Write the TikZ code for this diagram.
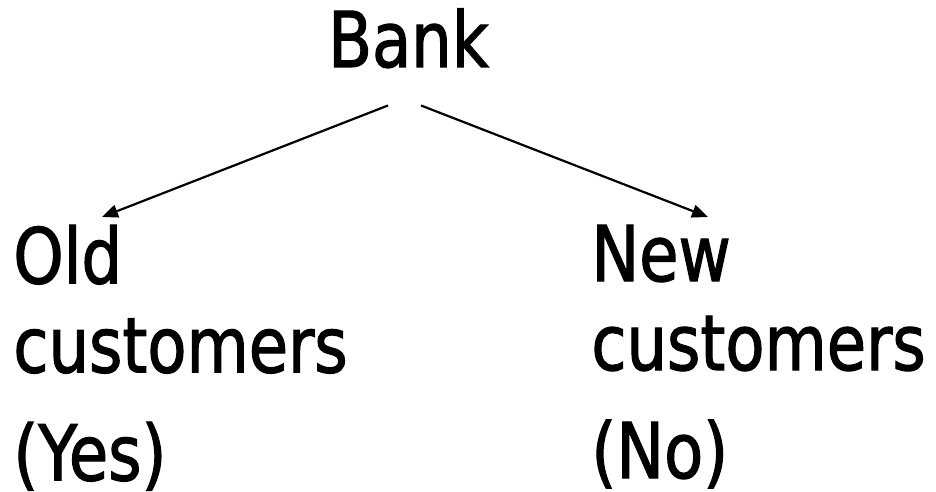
\documentclass[tikz,border=0pt]{standalone}
\usepackage{fontspec}
\usetikzlibrary{arrows.meta}
\newfontfamily\bankfont[FakeStretch=0.83,FakeBold=1.5]{DejaVu Sans}
\begin{document}
\begin{tikzpicture}[x=0.5pt,y=-0.5pt,
        word/.style={inner sep=0pt,align=left,font=\bankfont\fontsize{38.5}{44.5}\selectfont},
        arr/.style={-{Triangle[length=8pt,width=6.5pt]},line width=1.1pt}]
            \useasboundingbox (0,0) rectangle (936,492);

            \node[word,anchor=base] (bank) at (408.5,67) {Bank};
            \node[word,anchor=north west] (old) at (13,224.5) {Old\\customers\\[9.5pt](Yes)};
            \node[word,anchor=north west] (new) at (591,224.5) {New\\customers\\[9.5pt](No)};

            \draw[arr] ([xshift=-10.25pt,yshift=-18.5pt]bank.south) -- ([xshift=44.5pt,yshift=3.75pt]old.north west);
            \draw[arr] ([xshift=6.25pt,yshift=-18.5pt]bank.south) -- ([xshift=58.5pt,yshift=3.75pt]new.north west);
        \end{tikzpicture}
\end{document}
